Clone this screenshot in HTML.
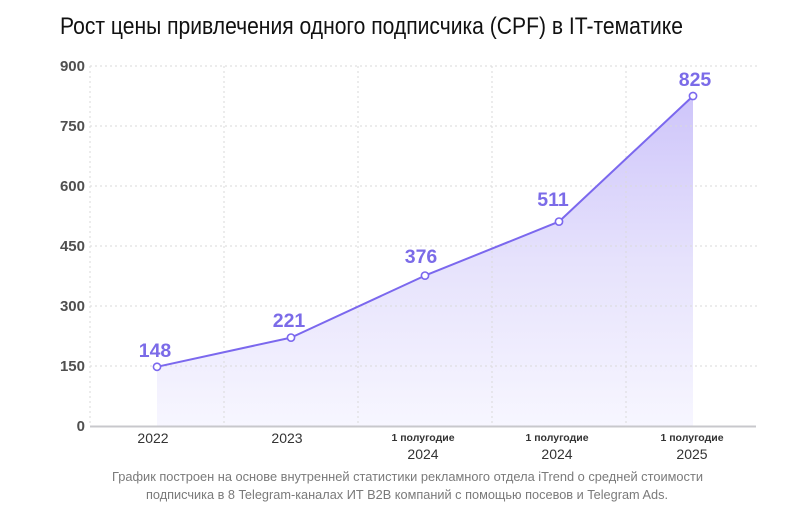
<!DOCTYPE html>
<html>
<head>
<meta charset="utf-8">
<style>
  html,body{margin:0;padding:0;background:#fff;}
  svg{display:block;}
  text{font-family:"Liberation Sans","DejaVu Sans",sans-serif;}
</style>
</head>
<body>
<svg width="800" height="508" viewBox="0 0 800 508" xmlns="http://www.w3.org/2000/svg">
  <defs>
    <linearGradient id="fillg" x1="0" y1="96" x2="0" y2="426" gradientUnits="userSpaceOnUse">
      <stop offset="0" stop-color="#cec5fa"/>
      <stop offset="0.5" stop-color="#e6e2fc"/>
      <stop offset="1" stop-color="#f7f6ff"/>
    </linearGradient>
  </defs>
  <rect width="800" height="508" fill="#fff"/>

  <!-- Title -->
  <text x="60" y="34" font-size="24" fill="#111" textLength="623" lengthAdjust="spacingAndGlyphs">Рост цены привлечения одного подписчика (CPF) в IT-тематике</text>

  <!-- Area -->
  <path d="M157,366.8 L291,337.6 L425,275.6 L559,221.6 L693,96 L693,426 L157,426 Z" fill="url(#fillg)"/>

  <!-- Grid -->
  <g stroke="#dadada" stroke-width="1" stroke-dasharray="2 3">
    <line x1="90" y1="66" x2="757" y2="66"/>
    <line x1="90" y1="126" x2="757" y2="126"/>
    <line x1="90" y1="186" x2="757" y2="186"/>
    <line x1="90" y1="246" x2="757" y2="246"/>
    <line x1="90" y1="306" x2="757" y2="306"/>
    <line x1="90" y1="366" x2="757" y2="366"/>
    <line x1="90" y1="66" x2="90" y2="426"/>
    <line x1="224" y1="66" x2="224" y2="426"/>
    <line x1="358" y1="66" x2="358" y2="426"/>
    <line x1="492" y1="66" x2="492" y2="426"/>
    <line x1="626" y1="66" x2="626" y2="426"/>
  </g>

  <!-- Axis -->
  <line x1="90" y1="426.5" x2="756" y2="426.5" stroke="#c8c8cc" stroke-width="2"/>

  <!-- Y labels -->
  <g font-size="15" font-weight="bold" fill="#4f4f4f" text-anchor="end">
    <text x="85" y="71">900</text>
    <text x="85" y="131">750</text>
    <text x="85" y="191">600</text>
    <text x="85" y="251">450</text>
    <text x="85" y="311">300</text>
    <text x="85" y="371">150</text>
    <text x="85" y="431">0</text>
  </g>

  <!-- Line -->
  <polyline points="157,366.8 291,337.6 425,275.6 559,221.6 693,96" fill="none" stroke="#7b68ee" stroke-width="2" stroke-linejoin="round"/>
  <g fill="#fff" stroke="#7b68ee" stroke-width="1.6">
    <circle cx="157" cy="366.8" r="3.6"/>
    <circle cx="291" cy="337.6" r="3.6"/>
    <circle cx="425" cy="275.6" r="3.6"/>
    <circle cx="559" cy="221.6" r="3.6"/>
    <circle cx="693" cy="96" r="3.6"/>
  </g>

  <!-- Value labels -->
  <g font-size="19.5" font-weight="bold" fill="#7b6be8" text-anchor="middle">
    <text x="155" y="357">148</text>
    <text x="289" y="327">221</text>
    <text x="421" y="263">376</text>
    <text x="553" y="206">511</text>
    <text x="695" y="86">825</text>
  </g>

  <!-- X labels -->
  <g fill="#333" text-anchor="middle">
    <text x="153" y="443" font-size="14">2022</text>
    <text x="287" y="443" font-size="14">2023</text>
    <text x="423" y="441" font-size="10.5" font-weight="bold">1 полугодие</text>
    <text x="423" y="459" font-size="14">2024</text>
    <text x="557" y="441" font-size="10.5" font-weight="bold">1 полугодие</text>
    <text x="557" y="459" font-size="14">2024</text>
    <text x="692" y="441" font-size="10.5" font-weight="bold">1 полугодие</text>
    <text x="692" y="459" font-size="14">2025</text>
  </g>

  <!-- Footnote -->
  <g fill="#7a7a7a" font-size="13">
    <text x="112" y="481" textLength="591" lengthAdjust="spacingAndGlyphs">График построен на основе внутренней статистики рекламного отдела iTrend о средней стоимости</text>
    <text x="146" y="499" textLength="522" lengthAdjust="spacingAndGlyphs">подписчика в 8 Telegram-каналах ИТ B2B компаний с помощью посевов и Telegram Ads.</text>
  </g>
</svg>
</body>
</html>
